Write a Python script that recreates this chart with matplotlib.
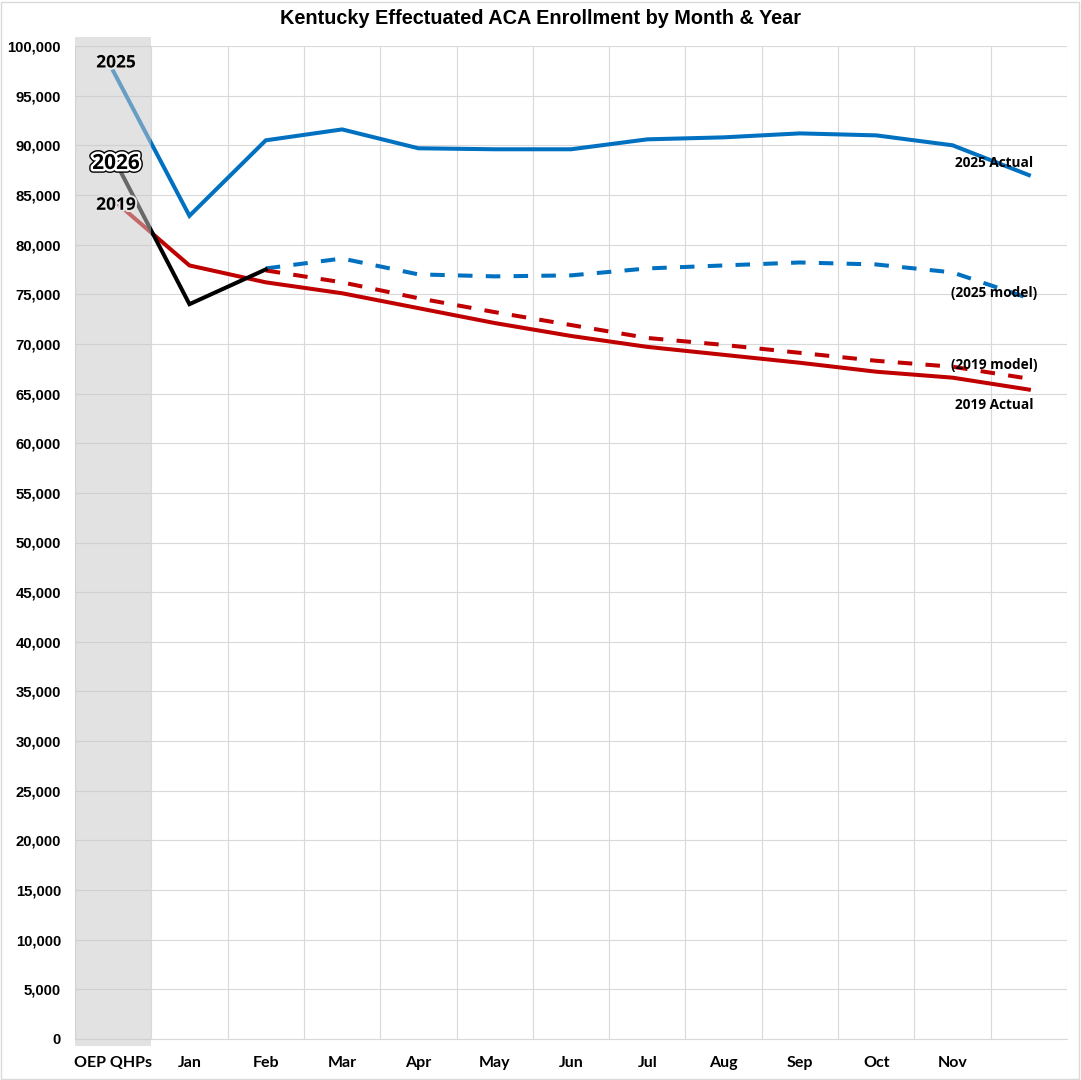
import matplotlib
matplotlib.use('Agg')
import matplotlib.pyplot as plt
import matplotlib.patheffects as pe
from matplotlib.patches import Rectangle
from matplotlib import font_manager
import numpy as np

# ---------------- data ----------------
categories = ["OEP QHPs", "Jan", "Feb", "Mar", "Apr", "May", "Jun",
              "Jul", "Aug", "Sep", "Oct", "Nov", ""]
actual_2025 = [97500, 82900, 90500, 91600, 89700, 89600, 89600,
               90600, 90800, 91200, 91000, 90000, 87000]
model_2025 = [np.nan, np.nan, 77600, 78600, 77000, 76800, 76900,
              77600, 77900, 78200, 78000, 77200, 74600]
actual_2019 = [84500, 77900, 76200, 75100, 73600, 72100, 70800,
               69700, 68900, 68100, 67200, 66600, 65400]
model_2019 = [np.nan, np.nan, 77400, 76200, 74600, 73200, 71900,
              70600, 69900, 69100, 68300, 67700, 66500]
actual_2026 = [88800, 74000, 77500]
y_ticks = list(range(0, 100001, 5000))
title = "Kentucky Effectuated ACA Enrollment by Month & Year"

# ---------------- fonts ----------------
names = {f.name for f in font_manager.fontManager.ttflist}
narrow = "Lato" if "Lato" in names else "Liberation Sans"
arial = "Liberation Sans"
segoe = "Open Sans"

BLUE = "#0070C0"
RED = "#C00000"
GRID = "#d9d9d9"

fig = plt.figure(figsize=(10.81, 10.80), dpi=100)
ax = fig.add_axes([75/1081, 41/1080, (1067-75)/1081, (1039-46)/1080])

x = np.arange(len(categories))
lw = 2.9
dash = (0, (3.6, 3.3))

ax.plot(x, actual_2025, color=BLUE, lw=lw, zorder=3, solid_joinstyle='miter')
ax.plot(x, model_2025, color=BLUE, lw=lw, ls=dash, zorder=3)
ax.plot(x, model_2019, color=RED, lw=lw, ls=dash, zorder=3)
ax.plot(x, actual_2019, color=RED, lw=lw, zorder=3, solid_joinstyle='miter')
ax.plot(x[:len(actual_2026)], actual_2026, color="black", lw=lw, zorder=3,
        solid_joinstyle='miter')

ax.set_xlim(-0.5, len(categories) - 0.5)
ax.set_ylim(0, 100000)

# OEP shaded band (drawn over the lines)
band = Rectangle((-0.5, -0.007), 1.0, 1.016,
                 transform=ax.get_xaxis_transform(), facecolor="#c8c8c8",
                 alpha=0.52, edgecolor="none", zorder=4, clip_on=False)
ax.add_patch(band)

# grid
ax.set_yticks(y_ticks)
ax.set_yticklabels([f"{v:,}" for v in y_ticks], fontfamily=arial,
                   fontweight="bold", fontsize=10.7)
ax.set_xticks(x)
ax.set_xticklabels(categories, fontfamily=narrow, fontweight="bold", fontsize=11.5)
ax.set_xticks(np.arange(-0.5, len(categories)), minor=True)
ax.tick_params(axis="both", which="both", length=0)
ax.tick_params(axis="y", pad=10)
ax.tick_params(axis="x", pad=12.5)
ax.grid(axis="y", which="major", color=GRID, lw=0.8, zorder=0)
ax.grid(axis="x", which="minor", color=GRID, lw=0.8, zorder=0)
ax.set_axisbelow(True)
for s in ["top", "right", "left"]:
    ax.spines[s].set_visible(False)
ax.spines["bottom"].set_color(GRID)
ax.spines["bottom"].set_linewidth(0.8)

# right-side series labels
lab_kw = dict(textcoords="offset points", ha="center", va="center",
              fontfamily=segoe, fontweight="bold", fontsize=9.8, zorder=6)
last = len(categories) - 1
ax.annotate("2025 Actual", (last, actual_2025[-1]), xytext=(-25, 8.5), **lab_kw)
ax.annotate("(2025 model)", (last, model_2025[-1]), xytext=(-25, 4), **lab_kw)
ax.annotate("(2019 model)", (last, model_2019[-1]), xytext=(-25, 10), **lab_kw)
ax.annotate("2019 Actual", (last, actual_2019[-1]), xytext=(-25, -11), **lab_kw)

# left-side year labels
yr_kw = dict(textcoords="offset points", ha="center", va="center",
             fontfamily=segoe, fontweight="bold", zorder=7)
ax.annotate("2025", (0, actual_2025[0]), xytext=(2, 6), fontsize=12.5,
            path_effects=[pe.withStroke(linewidth=3, foreground="#e4e4e4")], **yr_kw)
ax.annotate("2026", (0, actual_2026[0]), xytext=(2, -4.5), fontsize=15,
            path_effects=[pe.Stroke(linewidth=5.5, foreground="black"),
                          pe.Stroke(linewidth=3.5, foreground="white"),
                          pe.Normal()], **yr_kw)
ax.annotate("2019", (0, actual_2019[0]), xytext=(2, -3.5), fontsize=12.5,
            path_effects=[pe.withStroke(linewidth=3, foreground="#e4e4e4")], **yr_kw)

fig.text(540/1081, 1 - 18/1080, title, ha="center", va="center",
         fontfamily=arial, fontweight="bold", fontsize=14.3)

fig.patches.append(Rectangle((0.001, 0.001), 0.997, 0.997, transform=fig.transFigure,
                             fill=False, edgecolor=GRID, lw=1))

fig.savefig("out.png", dpi=100)
